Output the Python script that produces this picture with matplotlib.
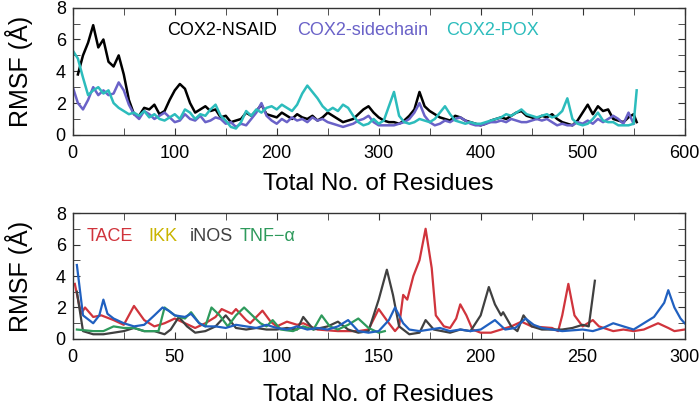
import matplotlib
matplotlib.use("Agg")
from matplotlib import pyplot as plt
from matplotlib.ticker import MultipleLocator
import numpy as np

plt.rcParams['font.family'] = ['Liberation Sans', 'DejaVu Sans']

# ---- top panel: COX2 systems (RMSF read every 5 residues) ----
nsaid_x = [5, 10, 15, 20, 25, 30, 35, 40, 45, 50, 55, 60, 65, 70, 75, 80, 85, 90, 95, 100,
           105, 110, 115, 120, 125, 130, 135, 140, 145, 150, 155, 160, 165, 170, 175, 180,
           185, 190, 195, 200, 205, 210, 215, 220, 225, 230, 235, 240, 245, 250, 255, 260,
           265, 270, 275, 280, 285, 290, 295, 300, 305, 310, 315, 320, 325, 330, 335, 340,
           345, 350, 355, 360, 365, 370, 375, 380, 385, 390, 395, 400, 405, 410, 415, 420,
           425, 430, 435, 440, 445, 450, 455, 460, 465, 470, 475, 480, 485, 490, 495, 500,
           505, 510, 515, 520, 525, 530, 535, 540, 545, 550, 553]
nsaid_y = [3.8, 5.0, 5.8, 6.9, 5.5, 6.0, 4.6, 4.3, 5.0, 3.8, 2.2, 1.3, 1.2, 1.7, 1.6, 1.9, 1.3,
           1.5, 2.2, 2.8, 3.2, 2.9, 2.0, 1.4, 1.6, 1.8, 1.5, 1.6, 1.1, 1.2, 0.8, 0.9, 1.0, 1.4,
           1.2, 1.5, 1.9, 1.3, 1.2, 1.1, 1.4, 1.2, 1.0, 1.3, 1.1, 1.0, 1.2, 0.9, 1.1, 1.4, 1.2,
           1.0, 0.8, 0.9, 1.0, 1.3, 1.6, 1.8, 1.4, 1.1, 0.9, 0.8, 0.8, 0.7, 0.9, 1.2, 1.6, 2.7,
           1.8, 1.5, 1.3, 1.1, 1.0, 0.9, 1.2, 1.1, 0.9, 0.8, 0.7, 0.6, 0.7, 0.9, 1.0, 1.1, 1.0,
           1.2, 1.4, 1.5, 1.2, 1.1, 1.0, 1.2, 1.1, 1.3, 1.0, 0.8, 0.7, 0.6, 0.9, 1.4, 1.9, 1.3,
           1.8, 1.5, 1.6, 1.0, 0.9, 0.8, 1.1, 1.3, 0.8]

side_x = list(range(0, 555, 5))
side_y = [3.0, 2.0, 1.6, 2.2, 3.0, 2.5, 2.8, 2.5, 2.6, 3.3, 2.8, 1.9, 1.3, 1.0, 1.5, 1.3, 1.0,
          1.2, 1.4, 1.1, 0.8, 0.9, 1.3, 1.0, 0.9, 1.2, 0.8, 0.9, 1.1, 1.0, 0.7, 0.8, 0.5, 0.7,
          0.6, 1.0, 1.4, 2.0, 1.2, 0.9, 0.7, 1.0, 0.8, 1.1, 0.9, 1.0, 0.8, 1.1, 0.9, 1.0, 0.8,
          0.7, 0.6, 0.5, 0.6, 0.7, 0.9, 1.0, 1.2, 0.8, 0.6, 0.6, 0.6, 0.6, 0.7, 0.8, 1.0, 1.4,
          2.0, 1.2, 0.8, 0.6, 0.7, 0.9, 0.8, 1.0, 1.1, 0.9, 0.7, 0.6, 0.6, 0.7, 0.8, 0.8, 0.9,
          0.8, 1.0, 0.9, 0.8, 0.8, 0.9, 1.0, 0.9, 1.0, 0.8, 0.6, 0.7, 0.6, 0.6, 0.8, 0.7, 0.9,
          0.7, 1.0, 0.8, 1.0, 1.2, 1.0, 0.7, 1.4, 0.7]

pox_x = list(range(0, 555, 5)) + [553]
pox_y = [5.3, 4.8, 3.6, 2.5, 2.8, 3.0, 2.6, 2.8, 2.0, 1.7, 1.5, 1.3, 1.4, 1.2, 1.5, 1.1, 1.3,
         1.0, 0.9, 1.1, 1.3, 1.0, 1.6, 1.4, 1.0, 1.3, 1.2, 1.6, 1.9, 1.2, 0.9, 0.5, 0.4, 0.8,
         1.5, 1.2, 1.6, 1.4, 1.7, 1.8, 1.6, 1.9, 1.7, 1.5, 1.9, 2.6, 3.1, 2.7, 2.3, 1.8, 1.5,
         1.7, 1.5, 1.9, 1.7, 1.2, 0.8, 0.6, 0.7, 1.0, 0.7, 0.9, 1.8, 2.7, 1.2, 0.8, 0.7, 0.8,
         1.0, 0.9, 0.8, 1.0, 1.4, 1.8, 1.3, 0.9, 0.8, 0.7, 0.8, 0.7, 0.7, 0.8, 0.9, 1.0, 1.1,
         1.3, 1.2, 1.4, 1.6, 1.3, 1.2, 1.1, 1.2, 1.3, 1.1, 1.2, 1.5, 2.3, 1.0, 0.7, 0.6, 0.7,
         1.0, 1.4, 0.9, 0.8, 0.8, 0.6, 0.6, 0.6, 0.7, 2.8]

# ---- bottom panel: TACE, IKK, iNOS, TNF-alpha ----
tace_x = [1, 4, 6, 10, 14, 20, 25, 30, 35, 40, 45, 50, 55, 60, 65, 70, 73, 78, 80, 85, 87, 93,
          97, 100, 105, 110, 113, 120, 130, 140, 145, 150, 155, 158, 160, 162, 164, 167, 170,
          173, 176, 178, 182, 185, 188, 190, 193, 196, 200, 205, 210, 215, 220, 225, 235, 238,
          240, 243, 246, 250, 255, 258, 265, 270, 275, 280, 287, 292, 295, 300]
tace_y = [3.5, 1.6, 2.0, 1.4, 1.5, 1.2, 0.9, 2.1, 1.2, 0.8, 1.0, 1.3, 1.0, 0.7, 1.0, 1.4, 1.9,
          1.6, 1.9, 1.2, 1.0, 1.8, 1.1, 0.8, 1.1, 0.9, 1.0, 0.6, 0.5, 0.5, 0.6, 1.9, 1.0, 0.5,
          0.8, 2.8, 2.5, 4.0, 5.0, 7.0, 4.5, 1.5, 0.8, 0.7, 1.3, 2.2, 1.5, 0.6, 0.4, 0.4, 0.6,
          0.8, 1.1, 0.8, 0.7, 0.5, 1.5, 3.5, 1.5, 0.8, 1.2, 0.8, 0.5, 0.6, 0.5, 0.6, 1.0, 0.7,
          0.5, 0.6]

ikk_x = [2, 5, 8, 10, 13, 15, 17, 20, 25, 30, 35, 40, 44, 47, 50, 55, 58, 62, 65, 70, 75, 80,
         85, 90, 95, 100, 105, 110, 115, 120, 125, 130, 135, 140, 145, 150, 155, 158, 162,
         165, 170, 175, 180, 185, 190, 195, 200, 207, 212, 217, 222, 226, 230, 240, 250, 255,
         260, 265, 270, 275, 280, 285, 290, 292, 295, 298, 300]
ikk_y = [4.7, 1.5, 1.2, 1.0, 1.5, 2.5, 1.6, 1.3, 1.0, 0.8, 0.9, 1.5, 2.0, 1.8, 1.5, 1.4, 1.6,
         1.0, 0.8, 0.8, 0.7, 0.9, 0.8, 0.7, 0.9, 0.7, 0.6, 0.8, 0.6, 0.7, 0.6, 0.8, 1.2, 0.5,
         0.4, 0.5, 1.2, 2.0, 1.0, 0.6, 0.5, 0.6, 0.7, 0.5, 0.6, 0.5, 0.6, 1.2, 0.6, 0.7, 1.3,
         0.9, 0.7, 0.5, 0.6, 0.5, 0.7, 1.0, 0.8, 0.6, 1.0, 1.4, 2.3, 3.1, 2.0, 1.3, 1.0]

inos_x = [2, 5, 10, 15, 20, 25, 30, 35, 40, 45, 48, 52, 56, 60, 65, 70, 75, 80, 85, 90, 95,
          100, 105, 110, 113, 118, 125, 130, 135, 140, 145, 150, 154, 157, 160, 165, 170, 173,
          177, 185, 190, 195, 200, 204, 207, 210, 211, 215, 218, 221, 225, 230, 235, 240, 245,
          250, 253, 256]
inos_y = [3.0, 0.5, 0.3, 0.3, 0.4, 0.5, 0.7, 0.5, 0.5, 0.3, 0.6, 1.4, 0.8, 0.4, 0.5, 0.8, 1.5,
          0.7, 0.6, 0.7, 0.6, 0.6, 0.7, 0.6, 1.4, 0.6, 0.8, 1.1, 0.6, 0.4, 0.5, 2.5, 4.4, 2.8,
          0.8, 0.3, 0.4, 1.2, 0.6, 0.4, 0.6, 0.5, 1.5, 3.3, 2.2, 1.5, 1.7, 0.8, 0.5, 1.5, 0.8,
          0.6, 0.6, 0.6, 0.7, 0.9, 0.8, 3.7]

tnf_x = [2, 10, 15, 20, 25, 30, 35, 42, 45, 50, 55, 58, 62, 65, 68, 72, 76, 80, 84, 88, 92,
         95, 98, 102, 108, 113, 118, 122, 126, 130, 135, 140, 145, 150, 153]
tnf_y = [0.6, 0.5, 0.5, 0.8, 0.7, 0.7, 0.5, 0.5, 2.0, 1.5, 1.3, 1.7, 1.0, 0.8, 2.0, 1.5, 0.8,
         1.5, 2.0, 1.5, 1.0, 0.8, 1.2, 0.6, 0.5, 0.8, 0.6, 1.5, 0.8, 0.6, 0.9, 1.3, 0.7, 0.4,
         0.5]

top_labels = ['COX2-NSAID', 'COX2-sidechain', 'COX2-POX']
top_colors = ['black', '#6a62c8', '#2cbcbc']
bot_labels = ['TACE', 'IKK', 'iNOS', 'TNF\u2212\u03b1']
bot_text_colors = ['#d0343c', '#c9b400', '#404040', '#2e9a5c']
bot_line_colors = ['#d0343c', '#2060c0', '#404040', '#2e9a5c']


def style(ax, xmax, xmajor, xminor):
    ax.set_xlim(0, xmax)
    ax.set_ylim(0, 8)
    ax.xaxis.set_major_locator(MultipleLocator(xmajor))
    ax.xaxis.set_minor_locator(MultipleLocator(xminor))
    ax.yaxis.set_major_locator(MultipleLocator(2))
    ax.yaxis.set_minor_locator(MultipleLocator(1))
    ax.tick_params(which='both', direction='in', top=True, right=True,
                   labelsize=13, color='#333333', length=5)
    ax.tick_params(axis='x', pad=7)
    ax.tick_params(axis='y', pad=5)
    for s in ax.spines.values():
        s.set_color('#333333')
        s.set_linewidth(1)
    ax.set_xlabel('Total No. of Residues', fontsize=17.5)
    ax.set_ylabel('RMSF (\u00c5)', fontsize=18)
    ax.yaxis.set_label_coords(-0.065, 0.5)


fig = plt.figure(figsize=(7, 4.05), dpi=100)
ax1 = fig.add_axes([0.104, 0.667, 0.874, 0.314])
ax2 = fig.add_axes([0.104, 0.163, 0.874, 0.311])

ax1.plot(nsaid_x, nsaid_y, color=top_colors[0], lw=1.8)
ax1.plot(side_x, side_y, color=top_colors[1], lw=1.8)
ax1.plot(pox_x, pox_y, color=top_colors[2], lw=1.8)
style(ax1, 600, 100, 50)
ax1.xaxis.set_label_coords(0.5, -0.30)
for lab, c, xp in zip(top_labels, top_colors, [0.154, 0.366, 0.611]):
    ax1.text(xp, 0.82, lab, color=c, fontsize=13, transform=ax1.transAxes, va='center')

ax2.plot(tace_x, tace_y, color=bot_line_colors[0], lw=1.6)
ax2.plot(inos_x, inos_y, color=bot_line_colors[2], lw=1.6)
ax2.plot(tnf_x, tnf_y, color=bot_line_colors[3], lw=1.6)
ax2.plot(ikk_x, ikk_y, color=bot_line_colors[1], lw=1.6)
style(ax2, 300, 50, 25)
ax2.xaxis.set_label_coords(0.5, -0.36)
for lab, c, xp in zip(bot_labels, bot_text_colors, [0.023, 0.123, 0.191, 0.273]):
    ax2.text(xp, 0.81, lab, color=c, fontsize=13, transform=ax2.transAxes, va='center')

fig.savefig('out.png', dpi=100)
